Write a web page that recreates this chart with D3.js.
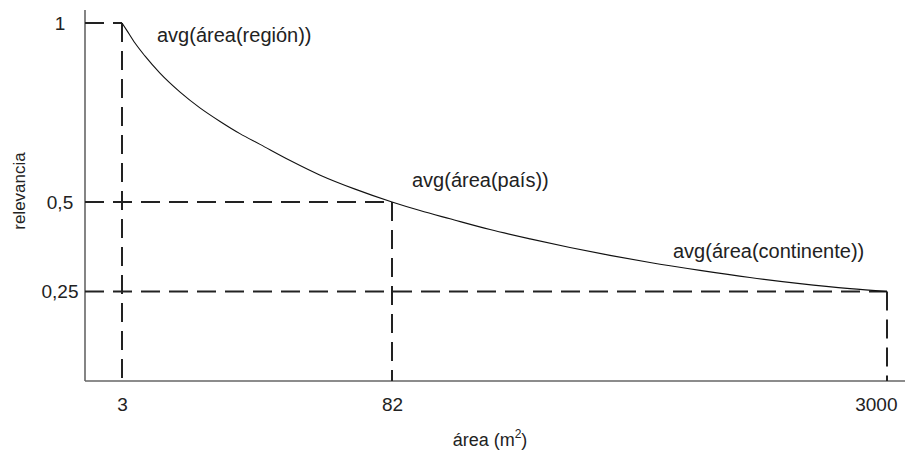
<!DOCTYPE html>
<html>
<head>
<meta charset="utf-8">
<script src="https://cdn.jsdelivr.net/npm/d3@7"></script>
<style>
  body { margin: 0; background: #fff; }
  svg { display: block; font-family: "Liberation Sans", Arial, sans-serif; }
</style>
</head>
<body>
<svg id="chart" width="905" height="460"></svg>
<script>
// key levels of the diagram
const areaTicks = [3, 82, 3000];
const relevanceTicks = [1, 0.5, 0.25];
const xTickLabels = ["3", "82", "3000"];
const yTickLabels = ["1", "0,5", "0,25"];
const levelLabels = ["avg(área(región))", "avg(área(país))", "avg(área(continente))"];

// curve
const curveArea = [3, 4.5, 6.8, 9.7, 14.1, 20, 25.8, 31.7, 37.5, 43.4, 52.2, 61, 71.2, 82,
  247, 424, 660, 896, 1131, 1367, 1603, 1898, 2192, 2487, 2782, 3000];
const curveRelevance = [1, 0.978, 0.944, 0.908, 0.86, 0.807, 0.763, 0.725, 0.691, 0.661, 0.616, 0.575, 0.536, 0.5,
  0.476, 0.453, 0.423, 0.397, 0.373, 0.351, 0.331, 0.309, 0.289, 0.272, 0.258, 0.25];

const svg = d3.select("#chart");
const width = 905, height = 460;
const margin = { top: 23, right: 0, bottom: 79, left: 85 };
const innerHeight = height - margin.top - margin.bottom;

// the area axis is not to scale: each level sits at its own spot
const xTickPos = [37, 307, 802];
const x = d3.scaleLinear().domain(areaTicks).range(xTickPos);
const y = d3.scaleLinear().domain([0, 1]).range([innerHeight, 0]);

const g = svg.append("g").attr("transform", `translate(${margin.left},${margin.top})`);

// axis frame
g.append("line")
  .attr("x1", 0).attr("x2", 0)
  .attr("y1", innerHeight).attr("y2", -13)
  .attr("stroke", "#666").attr("stroke-width", 1.6);
g.append("line")
  .attr("x1", 0).attr("x2", width - margin.left)
  .attr("y1", innerHeight).attr("y2", innerHeight)
  .attr("stroke", "#666").attr("stroke-width", 1.6);

// dashed guides
const levels = areaTicks.map((a, i) => ({ a, r: relevanceTicks[i], label: levelLabels[i] }));
const dash = "19,9";
g.selectAll(".hguide").data(levels).join("line")
  .attr("class", "hguide")
  .attr("x1", 0).attr("x2", d => x(d.a))
  .attr("y1", d => y(d.r)).attr("y2", d => y(d.r))
  .attr("stroke", "#222").attr("stroke-width", 2).attr("stroke-dasharray", dash);
g.selectAll(".vguide").data(levels).join("line")
  .attr("class", "vguide")
  .attr("x1", d => x(d.a)).attr("x2", d => x(d.a))
  .attr("y1", d => y(d.r)).attr("y2", innerHeight)
  .attr("stroke", "#222").attr("stroke-width", 2).attr("stroke-dasharray", dash);

// curve
const pts = curveArea.map((a, i) => [a, curveRelevance[i]]);
g.append("path")
  .datum(pts)
  .attr("fill", "none")
  .attr("stroke", "#111")
  .attr("stroke-width", 1.1)
  .attr("d", d3.line().x(d => x(d[0])).y(d => y(d[1])).curve(d3.curveMonotoneX));

// axes (labels only)
const xAxis = g.append("g")
  .attr("transform", `translate(0,${innerHeight})`)
  .call(d3.axisBottom(x).tickValues(areaTicks).tickSize(0).tickPadding(17)
    .tickFormat((d, i) => xTickLabels[i]));
xAxis.select(".domain").remove();
xAxis.selectAll("text").attr("font-size", 19).attr("fill", "#222").attr("font-family", null);
// last label is pulled in so it stays inside the frame
xAxis.selectAll(".tick:last-of-type text").attr("text-anchor", "end").attr("x", 10);

const yAxis = g.append("g")
  .call(d3.axisLeft(y).tickValues(relevanceTicks).tickSize(0)
    .tickFormat((d, i) => yTickLabels[i]));
yAxis.select(".domain").remove();
yAxis.selectAll("text")
  .attr("x", -25).attr("text-anchor", "middle")
  .attr("font-size", 19).attr("fill", "#222").attr("font-family", null);

// level labels
const labelDx = [35, 20, -214];
const labelDy = [19, -15, -34];
g.selectAll(".lvl").data(levels).join("text")
  .attr("class", "lvl")
  .attr("x", (d, i) => x(d.a) + labelDx[i])
  .attr("y", (d, i) => y(d.r) + labelDy[i])
  .attr("font-size", 20).attr("fill", "#222")
  .text(d => d.label);

// axis titles
const xt = svg.append("text")
  .attr("x", 490).attr("y", 446)
  .attr("text-anchor", "middle")
  .attr("font-size", 18).attr("fill", "#222");
xt.append("tspan").text("área (m");
xt.append("tspan").attr("dy", -8).attr("font-size", 12).text("2");
xt.append("tspan").attr("dy", 8).text(")");

svg.append("text")
  .attr("transform", "translate(25,191) rotate(-90)")
  .attr("text-anchor", "middle")
  .attr("font-size", 17).attr("fill", "#222")
  .text("relevancia");
</script>
</body>
</html>
